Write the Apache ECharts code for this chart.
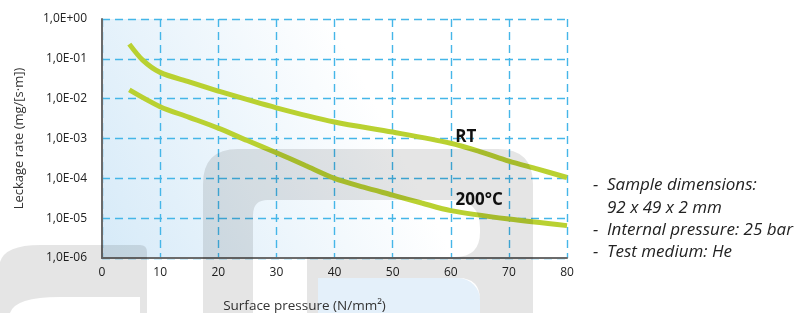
<!DOCTYPE html>
<html>
<head>
<meta charset="utf-8">
<script src="https://cdn.jsdelivr.net/npm/echarts@6/dist/echarts.min.js"></script>
<style>
  html, body { margin: 0; padding: 0; background: #fff; }
  #leak { width: 799px; height: 313px; }
</style>
</head>
<body>
<div id="leak"></div>
<script>
// surface pressure (N/mm2) and leakage rate (mg/(s.m))
var rtPressure = [4.7, 7, 10, 15, 20, 30, 40, 50, 60, 65, 70, 75, 80];
var rtLeak = [0.234, 0.093, 0.0457, 0.0263, 0.0155, 0.0059, 0.0026, 0.00145, 7.6e-4, 4.7e-4, 2.7e-4, 1.7e-4, 1.05e-4];

var hotPressure = [4.7, 10, 15, 20, 25, 30, 35, 40, 45, 50, 55, 60, 70, 80];
var hotLeak = [1.66e-2, 6.3e-3, 3.4e-3, 1.82e-3, 8.9e-4, 4.4e-4, 2.1e-4, 1.0e-4, 6.0e-5, 3.8e-5, 2.4e-5, 1.55e-5, 9.5e-6, 6.5e-6];

var curveNames = ['RT', '200°C'];
var labelAt = [[62.6, 1.1e-3], [64.9, 2.9e-5]];

var notes = ['Sample dimensions:', '92 x 49 x 2 mm', 'Internal pressure: 25 bar', 'Test medium: He'];
var noteDash = [true, false, true, true];

! function() {
    'use strict'
    var chart = echarts.init(document.getElementById('leak'));

    function pairs(xs, ys) {
        return xs.map(function(x, i) { return [x, ys[i]]; });
    }

    function sciLabel(v) {
        var e = Math.round(Math.log(v) / Math.LN10);
        var a = Math.abs(e);
        return '1,0E' + (e < 0 ? '-' : '+') + (a < 10 ? '0' : '') + a;
    }

    var gridDash = {
        show: true,
        lineStyle: { color: '#45b6e8', width: 1.4, type: [8, 5] }
    };

    var graphics = [{
        type: 'rect', z: -10, silent: true,
        shape: { x: 102, y: 19, width: 465, height: 239 },
        style: {
            fill: new echarts.graphic.LinearGradient(0, 1, 1, 0, [
                { offset: 0, color: '#d6eaf8' },
                { offset: 0.6, color: '#ffffff' }
            ])
        }
    }, {
        type: 'rect', z: -9, silent: true,
        shape: { x: 318, y: 278, width: 162, height: 40, r: [0, 22, 0, 0] },
        style: { fill: '#e4f0fa' }
    }];

    var noteFont = 'italic 17px "Open Sans"';
    var noteY = [185, 208, 230, 252];
    notes.forEach(function(t, i) {
        if (noteDash[i]) {
            graphics.push({
                type: 'text', x: 593, y: noteY[i], z: 5,
                style: { text: '-', fill: '#222', font: noteFont, verticalAlign: 'middle' }
            });
        }
        graphics.push({
            type: 'text', x: 607, y: noteY[i], z: 5,
            style: { text: t, fill: '#222', font: noteFont, verticalAlign: 'middle' }
        });
    });

    function curve(name, xs, ys, lbl) {
        return {
            name: name,
            type: 'line',
            smooth: 0.3,
            showSymbol: false,
            silent: true,
            lineStyle: { color: '#b9d131', width: 5 },
            data: pairs(xs, ys),
            markPoint: {
                symbol: 'circle',
                symbolSize: 0,
                silent: true,
                label: {
                    show: true,
                    formatter: name,
                    position: 'inside',
                    color: '#111',
                    fontSize: 17,
                    fontWeight: 'bold',
                    fontFamily: 'Open Sans'
                },
                data: [{ coord: lbl }]
            }
        };
    }

    var option = {
        animation: false,
        textStyle: { fontFamily: 'Open Sans' },
        graphic: graphics,
        grid: { left: 102, right: 232, top: 19, bottom: 55, containLabel: false, outerBoundsMode: 'none' },
        xAxis: {
            type: 'value',
            min: 0,
            max: 80,
            interval: 10,
            name: 'Surface pressure (N/mm²)',
            nameLocation: 'middle',
            nameGap: 41,
            nameTextStyle: { color: '#333', fontSize: 13.5, padding: [0, 60, 0, 0] },
            axisLine: { show: true, lineStyle: { color: '#6b6b6b', width: 2 } },
            axisTick: { show: false },
            axisLabel: { color: '#222', fontSize: 12, margin: 9 },
            splitLine: gridDash
        },
        yAxis: {
            type: 'log',
            logBase: 10,
            min: 1e-6,
            max: 1,
            splitNumber: 6,
            name: 'Leckage rate (mg/[s·m])',
            nameLocation: 'middle',
            nameGap: 76,
            nameTextStyle: { color: '#333', fontSize: 13 },
            axisLine: { show: true, lineStyle: { color: '#6b6b6b', width: 2 } },
            axisTick: { show: false },
            axisLabel: { color: '#222', fontSize: 12, margin: 15, formatter: sciLabel },
            splitLine: gridDash
        },
        series: [
            curve(curveNames[0], rtPressure, rtLeak, labelAt[0]),
            curve(curveNames[1], hotPressure, hotLeak, labelAt[1])
        ]
    };
    chart.setOption(option);

    // grey watermark logo laid over the chart, holes cut by opposite winding
    var grey = 'rgba(0,0,0,0.1)';
    var logo = [
        'M203,313 L203,184 Q203,149 238,149 L498,149 Q533,149 533,184 L533,313 Z ' +
        'M253,313 L307,313 L307,257 L455,257 Q480,257 480,232 L480,228 Q480,200 452,200 L268,200 Q253,200 253,215 Z ' +
        'M318,313 L480,313 L480,300 Q480,278 458,278 L318,278 Z',
        'M0,313 L0,262 Q5,245 40,245 L140,245 Q147,245 147,252 L147,313 Z ' +
        'M10,313 L140,313 L140,297 L60,297 Q15,297 10,313 Z'
    ];
    var zr = chart.getZr();
    logo.forEach(function(d) {
        zr.add(echarts.graphic.makePath(d, { z: 100, silent: true, style: { fill: grey } }));
    });
}()
</script>
</body>
</html>
